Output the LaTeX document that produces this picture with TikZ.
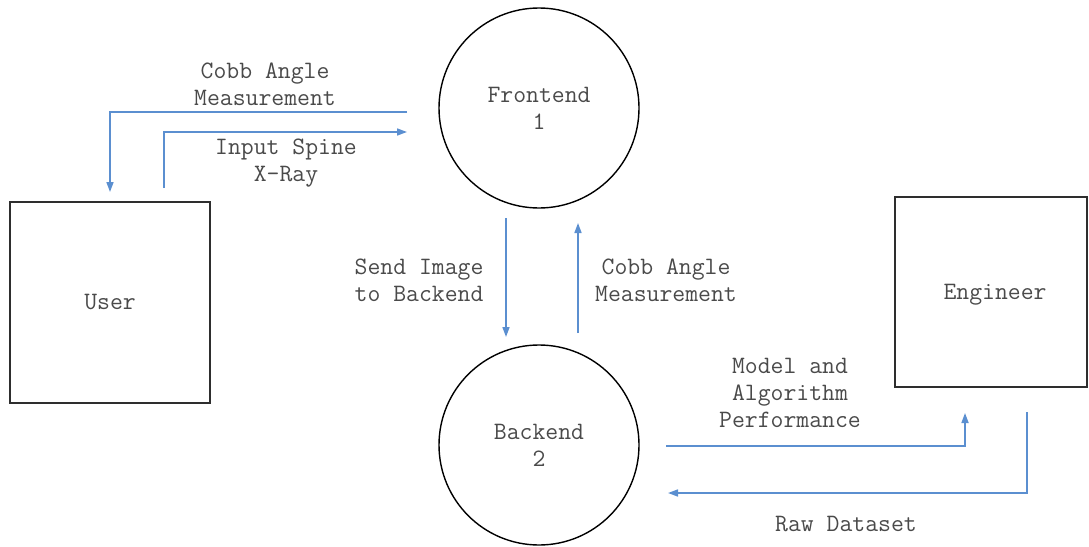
\documentclass[tikz,border=0pt]{standalone}
\usepackage{fontspec}
\usetikzlibrary{arrows.meta}
\definecolor{flow}{HTML}{5B8FD0}
\definecolor{ink}{HTML}{4A4A4A}
\definecolor{edge}{HTML}{2E2E2E}
\begin{document}
\begin{tikzpicture}[x=1pt,y=-1pt,
  entity/.style={rectangle,draw=edge,line width=1.5pt,inner sep=0pt,
    font=\ttfamily\fontsize{25}{27}\selectfont,text=ink},
  process/.style={circle,draw=black,line width=1.4pt,minimum size=200pt,inner sep=0pt,
    font=\ttfamily\fontsize{25}{27}\selectfont,text=ink,align=center},
  lbl/.style={font=\ttfamily\fontsize{25}{27}\selectfont,text=ink,align=center,inner sep=0pt},
  flowline/.style={draw=flow,line width=1.6pt,-{Triangle[length=10pt,width=7pt]}}
]
\useasboundingbox (0,0) rectangle (1089,546);

% external entities
\node[entity,minimum width=200pt,minimum height=201pt] (user) at (110,302.5) {User};
\node[entity,minimum width=192pt,minimum height=190pt] (eng) at (991,292) {};
\node[lbl] (engtxt) at (995,295) {Engineer};

% processes
\node[process] (fe) at (539,108) {Frontend\\1};
\node[process] (be) at (539,445) {Backend\\2};

% connector end points
\coordinate (feOut) at (407,112);
\coordinate (userIn) at (110,192);
\coordinate (userOut) at (164,188);
\coordinate (feIn) at (407,132);
\coordinate (feDown) at (506,218);
\coordinate (beIn) at (506,337);
\coordinate (beUp) at (578,333);
\coordinate (feIn2) at (578,223);
\coordinate (beOut) at (666,446);
\coordinate (engIn) at (965,413);
\coordinate (engOut) at (1027,412);
\coordinate (beIn2) at (668,493);

% data flows
\draw[flowline] (feOut) -| (userIn);
\draw[flowline] (userOut) |- (feIn);
\draw[flowline] (feDown) -- (beIn);
\draw[flowline] (beUp) -- (feIn2);
\draw[flowline] (beOut) -| (engIn);
\draw[flowline] (engOut) |- (beIn2);

% flow labels
\node[lbl] (l1) at (265,84) {Cobb Angle\\Measurement};
\node[lbl] (l2) at (286,163) {Input Spine\\X-Ray};
\node[lbl] (l3) at (419,280) {Send Image\\to Backend};
\node[lbl] (l4) at (666,280) {Cobb Angle\\Measurement};
\node[lbl] (l5) at (790,393) {Model and\\Algorithm\\Performance};
\node[lbl] (l6) at (846,524) {Raw Dataset};
\end{tikzpicture}
\end{document}
